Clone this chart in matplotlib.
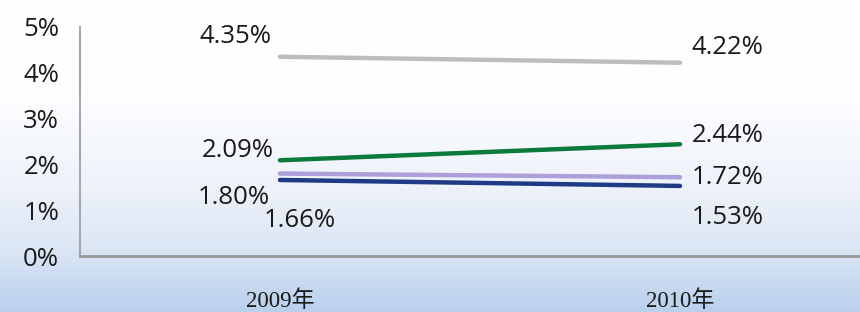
import numpy as np
import matplotlib
matplotlib.use("Agg")
import matplotlib.pyplot as plt
from matplotlib.colors import LinearSegmentedColormap

# data
years = ["2009年", "2010年"]
grey_vals = [4.35, 4.22]
green_vals = [2.09, 2.44]
purple_vals = [1.80, 1.72]
navy_vals = [1.66, 1.53]
yticks = [0, 1, 2, 3, 4, 5]

series = [
    (grey_vals, "#bdbdbd", [(-8, 20, "right"), (12, 15, "left")]),
    (green_vals, "#0b7a3b", [(-6, 10, "right"), (12, 9, "left")]),
    (purple_vals, "#ad9fd9", [(-10, -24, "right"), (12, 0, "left")]),
    (navy_vals, "#1f3b86", [(-16, -41, "left"), (12, -32, "left")]),
]

fig = plt.figure(figsize=(8.6, 3.12), dpi=100)

# background gradient
bg = fig.add_axes([0, 0, 1, 1], zorder=0)
bg.set_axis_off()
cmap = LinearSegmentedColormap.from_list(
    "bg", [(0, "#ffffff"), (0.3, "#fdfeff"), (0.6, "#eef2fa"), (0.8, "#dbe6f5"), (1.0, "#b9d0ed")])
grad = np.linspace(0, 1, 256).reshape(-1, 1)
bg.imshow(grad, aspect="auto", cmap=cmap, extent=[0, 1, 0, 1], origin="upper")

ax = fig.add_axes([80 / 860, 1 - 256 / 312, 800 / 860, 229 / 312], zorder=1)
ax.patch.set_alpha(0)
x = np.arange(len(years))
for vals, col, offs in series:
    ax.plot(x, vals, color=col, lw=3.2, solid_capstyle="round")
    for xi, v, (dx, dy, ha) in zip(x, vals, offs):
        ax.annotate("%.2f%%" % v, (xi, v), xytext=(dx, dy), textcoords="offset pixels",
                    ha=ha, va="center", fontsize=18.5, family="Open Sans", color="#1a1a1a")

ax.set_xlim(-0.5, 1.5)
ax.set_ylim(0, 5)
ax.set_yticks(yticks)
ax.set_yticklabels(["%d%%" % t for t in yticks], fontsize=18.5, family="Open Sans", color="#1a1a1a")
ax.set_xticks(x)
ax.set_xticklabels(years, fontsize=16.5, family=["Liberation Serif", "Noto Sans CJK SC"], color="#1a1a1a")
ax.tick_params(axis="y", length=0, pad=15)
ax.tick_params(axis="x", length=0, pad=25)
for s in ["top", "right"]:
    ax.spines[s].set_visible(False)
ax.spines["left"].set_color("#a8a8a8")
ax.spines["bottom"].set_color("#9a9a9a")
ax.spines["left"].set_linewidth(1.5)
ax.spines["bottom"].set_linewidth(2)

fig.savefig("out.png", dpi=100)
